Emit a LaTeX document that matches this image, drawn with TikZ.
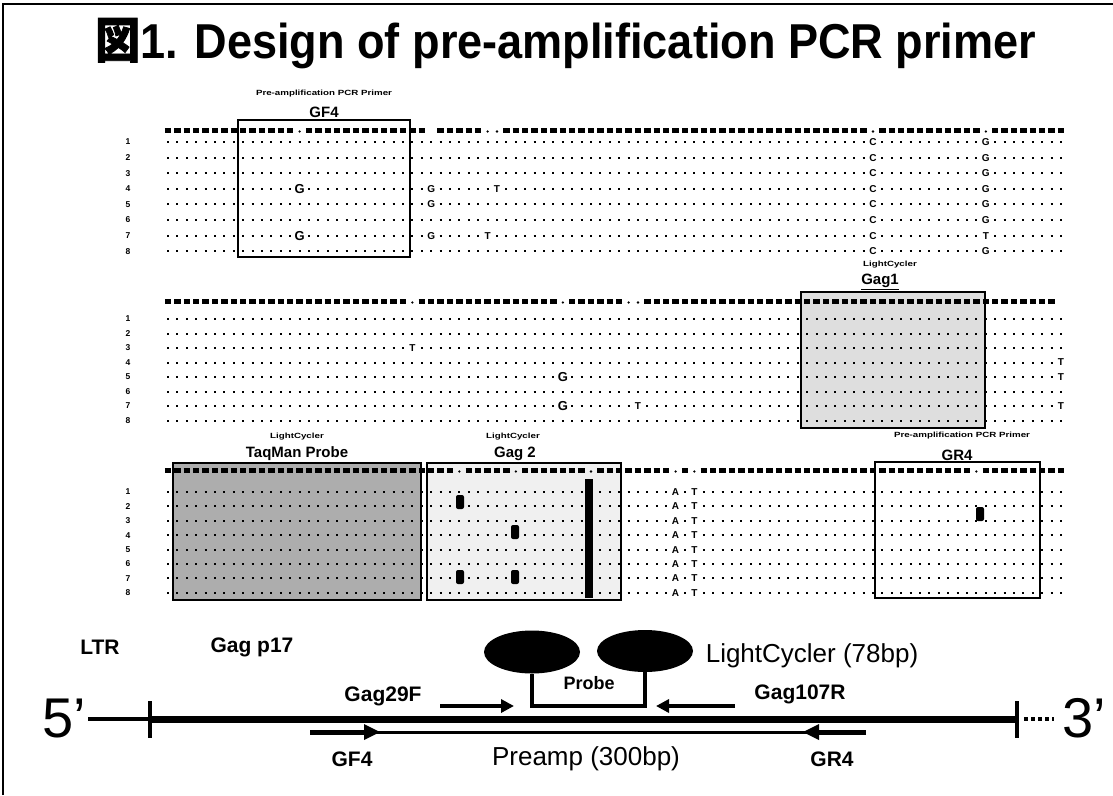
\documentclass[tikz,border=0pt]{standalone}
\usepackage{fontspec}
\usepackage{graphicx}
\usetikzlibrary{arrows.meta,shapes.geometric}
\setmainfont{Liberation Sans}
\newfontfamily\cjkfont[FakeBold=1.5]{Noto Sans CJK JP}
\newcommand\cx[1]{168+#1*9.4}
\newcommand\dotrows[1]{\foreach \yy in {#1}{\draw[dotrow] (167,\yy) -- (1063,\yy);}}
\newcommand\hseg[3]{\draw[hdr] ({168+#1*9.4-3.2},#3) -- ({168+#2*9.4+3.2},#3);}
\newcommand\hdot[2]{\fill ({168+#1*9.4},{#2+1.5}) circle (1.3pt);}
\begin{document}
\begin{tikzpicture}[x=1pt,y=-1pt,
  dotrow/.style={line width=2pt,dash pattern=on 2pt off 7.4pt},
  hdr/.style={line width=5pt,dash pattern=on 6.4pt off 3pt},
  seqlet/.style={font=\bfseries\fontsize{10}{10}\selectfont,fill=white,inner sep=0.6pt},
  biglet/.style={font=\bfseries\fontsize{13}{13}\selectfont,fill=white,inner sep=0.3pt},
  rowlab/.style={font=\bfseries\fontsize{8.5}{8.5}\selectfont,inner sep=0pt},
  boxln/.style={line width=2.6pt},
  smalllab/.style={font=\bfseries\fontsize{7.5}{7.5}\selectfont,inner sep=0pt},
  boxlab/.style={font=\bfseries\fontsize{15}{15}\selectfont,inner sep=0pt},
  blob/.style={fill=black,rounded corners=2pt},
  maplab/.style={font=\bfseries\fontsize{21}{21}\selectfont,inner sep=0pt},
  bigtxt/.style={font=\fontsize{26}{26}\selectfont,inner sep=0pt},
  endtxt/.style={font=\fontsize{56}{56}\selectfont,inner sep=0pt},
]
\useasboundingbox (0,0) rectangle (1113,795);
% frame
\draw[line width=2pt] (3,795) -- (3,4) -- (1113,4);
% title
\node[anchor=base west,inner sep=0pt] (title) at (95,58)
  {\scalebox{0.92}[1]{\fontsize{49}{49}\selectfont\bfseries{\cjkfont 図}1. Design of pre-amplification PCR primer}};

% ---------- box fills ----------
\fill[black!6] (427,463) rectangle (621,600);
\fill[black!32] (173,463) rectangle (421,600);
\fill[black!13] (801,292) rectangle (985,428);

% ---------- block 1 ----------
\dotrows{142,157.6,173.2,188.8,204.4,220,235.6,251.2}
\hseg{0}{13}{130}\hdot{14}{130}\hseg{15}{27}{130}\hseg{29}{33}{130}
\hdot{34}{130}\hdot{35}{130}\hseg{36}{74}{130}\hdot{75}{130}\hseg{76}{86}{130}\hdot{87}{130}\hseg{88}{95}{130}
\foreach \y/\l [count=\i] in {142/G,157.6/G,173.2/G,188.8/G,204.4/G,220/G,235.6/T,251.2/G}{
  \node[rowlab] (ra\i) at (128,\y) {\i};
  \node[seqlet] (ca\i) at ({\cx{75}},\y) {C};
  \node[seqlet] (ga\i) at ({\cx{87}},\y) {\l};
}
\node[biglet] (gf1) at ({\cx{14}},188.8) {G};
\node[biglet] (gf2) at ({\cx{14}},235.6) {G};
\node[seqlet] (a28r4) at ({\cx{28}},188.8) {G};
\node[seqlet] (a28r5) at ({\cx{28}},204.4) {G};
\node[seqlet] (a28r7) at ({\cx{28}},235.6) {G};
\node[seqlet] (a35r4) at ({\cx{35}},188.8) {T};
\node[seqlet] (a34r7) at ({\cx{34}},235.6) {T};
\draw[boxln] (238,120) rectangle (410,257);
\node[smalllab] (pa1) at (324,94) {\scalebox{1.3}[1]{Pre-amplification PCR Primer}};
\node[boxlab] (gf4) at (324,112) {GF4};

% ---------- block 2 ----------
\dotrows{319,333.5,348,362.5,377,391.5,406,420.5}
\hseg{0}{25}{301}\hdot{26}{301}\hseg{27}{41}{301}\hdot{42}{301}\hseg{43}{48}{301}
\hdot{49}{301}\hdot{50}{301}\hseg{51}{94}{301}
\foreach \y [count=\i] in {319,333.5,348,362.5,377,391.5,406,420.5}{
  \node[rowlab] (rb\i) at (128,\y) {\i};
}
\node[seqlet] (b26) at ({\cx{26}},348) {T};
\node[biglet] (b42a) at ({\cx{42}},377) {G};
\node[biglet] (b42b) at ({\cx{42}},406) {G};
\node[seqlet] (b50) at ({\cx{50}},406) {T};
\node[seqlet] (b95a) at ({\cx{95}},362.5) {T};
\node[seqlet] (b95b) at ({\cx{95}},377) {T};
\node[seqlet] (b95c) at ({\cx{95}},406) {T};
\draw[boxln] (801,292) rectangle (985,428);
\node[smalllab] (lc1) at (890,265) {\scalebox{1.3}[1]{LightCycler}};
\node[boxlab] (gag1) at (880,282) {\underline{Gag1}};

% ---------- block 3 ----------
\dotrows{492,506.4,520.8,535.2,549.6,564,578.4,592.8}
\hseg{0}{30}{470}\hdot{31}{470}\hseg{32}{36}{470}\hdot{37}{470}\hseg{38}{44}{470}\hdot{45}{470}
\hseg{46}{53}{470}\hdot{54}{470}\hseg{55}{55}{470}\hdot{56}{470}\hseg{57}{85}{470}\hdot{86}{470}\hseg{87}{95}{470}
\foreach \y [count=\i] in {492,506.4,520.8,535.2,549.6,564,578.4,592.8}{
  \node[rowlab] (rc\i) at (128,\y) {\i};
  \node[seqlet] (ac\i) at ({\cx{54}},\y) {A};
  \node[seqlet] (tc\i) at ({\cx{56}},\y) {T};
}
\fill[blob] (456,495) rectangle (464,509);
\fill[blob] (511,525) rectangle (519,539);
\fill[blob] (456,570) rectangle (464,584);
\fill[blob] (511,570) rectangle (519,584);
\fill (585,479) rectangle (593,598);
\fill[blob] (976,507) rectangle (984,521);
\draw[boxln] (173,463) rectangle (421,600);
\draw[boxln] (427,463) rectangle (621,600);
\draw[boxln] (875,462) rectangle (1040,598);
\node[smalllab] (lc2) at (297,437) {\scalebox{1.3}[1]{LightCycler}};
\node[boxlab] (taq) at (297,455) {\underline{TaqMan Probe}};
\node[smalllab] (lc3) at (513,437) {\scalebox{1.3}[1]{LightCycler}};
\node[boxlab] (gag2) at (515,455) {\underline{Gag 2}};
\node[smalllab] (pa2) at (962,436) {\scalebox{1.3}[1]{Pre-amplification PCR Primer}};
\node[boxlab] (gr4box) at (957,455) {GR4};

% ---------- genome map ----------
\node[maplab] (ltr) at (100,647) {LTR};
\node[maplab] (p17) at (252,647) {Gag p17};
\node[endtxt] (five) at (64,718) {5’};
\node[endtxt] (three) at (1084,718) {3’};
\coordinate (lend) at (88,719);
\coordinate (ltick) at (150,719);
\coordinate (rtick) at (1017,719);
\draw[line width=4pt] (lend) -- (ltick);
\draw[line width=7pt] (ltick) -- (rtick);
\draw[line width=4pt] (150,701) -- (150,738);
\draw[line width=4pt] (1017,701) -- (1017,738);
\draw[line width=4pt,dash pattern=on 4pt off 3pt] (1024,719) -- (1054,719);

\node[ellipse,fill=black,minimum width=96pt,minimum height=43pt,inner sep=0pt] (e1) at (532,652) {};
\node[ellipse,fill=black,minimum width=96pt,minimum height=42pt,inner sep=0pt] (e2) at (645,651) {};
\coordinate (pbot) at (0,706);
\draw[line width=3.5pt] (e1.south) -- (e1.south |- pbot) -- (e2.south |- pbot) -- (e2.south);
\node[font=\bfseries\fontsize{18}{18}\selectfont,inner sep=0pt] (probe) at (589,683) {Probe};
\node[bigtxt] (lc78) at (812,656) {LightCycler (78bp)};

\node[maplab] (g29) at (383,696) {Gag29F};
\node[maplab] (g107) at (800,694) {Gag107R};
\coordinate (g29s) at (440,706); \coordinate (g29e) at (514,706);
\coordinate (g107s) at (735,706); \coordinate (g107e) at (656,706);
\draw[line width=4pt,-{Triangle[length=13pt,width=13pt]}] (g29s) -- (g29e);
\draw[line width=4pt,-{Triangle[length=13pt,width=13pt]}] (g107s) -- (g107e);

\coordinate (pre1) at (310,732); \coordinate (pre2) at (866,732);
\coordinate (gf4tip) at (380,732); \coordinate (gr4tip) at (803,732);
\draw[line width=3pt] (pre1) -- (pre2);
\draw[line width=5pt] (pre1) -- ++(55,0);
\draw[line width=5pt] (pre2) -- ++(-48,0);
\fill (gf4tip) -- ++(-16,-8) -- ++(0,16) -- cycle;
\fill (gr4tip) -- ++(16,-8) -- ++(0,16) -- cycle;
\node[maplab] (gf4m) at (352,759) {GF4};
\node[bigtxt] (pre) at (586,759) {Preamp (300bp)};
\node[maplab] (gr4m) at (832,759) {GR4};
\end{tikzpicture}
\end{document}
